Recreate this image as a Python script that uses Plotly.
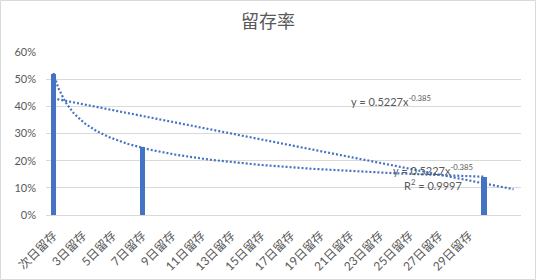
import numpy as np
import plotly.graph_objects as go

# ---- data ----
bar_labels = ["次日留存", "7日留存", "30日留存"]
bar_days = [1, 7, 30]
bar_values = [0.52, 0.25, 0.14]

tick_days = [1, 3, 5, 7, 9, 11, 13, 15, 17, 19, 21, 23, 25, 27, 29]
tick_labels = ["次日留存", "3日留存", "5日留存", "7日留存", "9日留存", "11日留存",
               "13日留存", "15日留存", "17日留存", "19日留存", "21日留存",
               "23日留存", "25日留存", "27日留存", "29日留存"]
n_categories = 32          # 30 days + 2 forecast periods
power_end = 30
linear_end = 32

title_text = "留存率"
eq_text = "y = 0.5227x<sup>-0.385</sup>"
r2_text = "R<sup>2</sup> = 0.9997"

BLUE = "#4472C4"
GRAY_TXT = "#595959"
GRID = "#d9d9d9"
FONT = "Lato, Noto Sans CJK SC, sans-serif"

# ---- trendlines fitted from the bar data (as Excel does) ----
xd = np.array(bar_days, dtype=float)
yd = np.array(bar_values, dtype=float)
b_pow, ln_a = np.polyfit(np.log(xd), np.log(yd), 1)
xp = np.linspace(1, power_end, 300)
yp = np.exp(ln_a) * xp ** b_pow
m_lin, c_lin = np.polyfit(xd, yd, 1)
xl = np.array([1.0, float(linear_end)])
yl = m_lin * xl + c_lin

fig = go.Figure()
fig.add_trace(go.Bar(x=bar_days, y=bar_values, width=0.36, marker_color=BLUE,
                     marker_line_width=0, text=bar_labels, hoverinfo="text+y",
                     textposition="none", showlegend=False))
fig.add_trace(go.Scatter(x=xl, y=yl, mode="lines", showlegend=False,
                         line=dict(color=BLUE, width=2.2, dash="2px,2px")))
fig.add_trace(go.Scatter(x=xp, y=yp, mode="lines", showlegend=False,
                         line=dict(color=BLUE, width=2.2, dash="2px,2px")))

W, H = 536, 280
L, R, T, B = 46, 15, 52, 65
pw, ph = W - L - R, H - T - B

fig.update_layout(
    width=W, height=H,
    margin=dict(l=L, r=R, t=T, b=B, pad=0, autoexpand=False),
    paper_bgcolor="white", plot_bgcolor="white",
    font=dict(family=FONT, color=GRAY_TXT, size=11),
    title=dict(text=title_text, x=(268 - L) / pw, xref="paper", xanchor="center",
               y=1 - 22 / H, yanchor="middle", yref="container",
               font=dict(size=18, color=GRAY_TXT, family="Noto Sans CJK SC")),
    bargap=0,
    xaxis=dict(range=[0.5, n_categories + 0.5], tickmode="array",
               tickvals=tick_days, ticktext=tick_labels, tickangle=-45,
               showgrid=False, zeroline=False, showline=False, ticks="",
               ticklabelstandoff=10, automargin=False,
               tickfont=dict(size=12, color=GRAY_TXT, family=FONT)),
    yaxis=dict(range=[0, 0.6], dtick=0.1, tickformat=".0%", showgrid=True,
               gridcolor=GRID, gridwidth=1, zeroline=True, zerolinecolor=GRID,
               zerolinewidth=1, showline=False, ticks="", ticklabelstandoff=9,
               automargin=False,
               tickfont=dict(size=11, color=GRAY_TXT, family=FONT)),
    shapes=[dict(type="rect", xref="paper", yref="paper",
                 x0=(0.5 - L) / pw, x1=(W - 0.5 - L) / pw,
                 y0=-(B - 0.5) / ph, y1=1 + (T - 0.5) / ph,
                 line=dict(color=GRID, width=1), fillcolor="rgba(0,0,0,0)",
                 layer="below")],
    annotations=[
        dict(text=eq_text, x=20.9, y=0.42, xref="x", yref="y", xanchor="left",
             yanchor="middle", showarrow=False,
             font=dict(size=11, color=GRAY_TXT, family=FONT)),
        dict(text=eq_text, x=26.6, y=0.168, xref="x", yref="y", xanchor="center",
             yanchor="middle", showarrow=False,
             font=dict(size=11, color=GRAY_TXT, family=FONT)),
        dict(text=r2_text, x=26.6, y=0.113, xref="x", yref="y", xanchor="center",
             yanchor="middle", showarrow=False,
             font=dict(size=11, color=GRAY_TXT, family=FONT)),
    ],
)

fig.write_html("out.html")
